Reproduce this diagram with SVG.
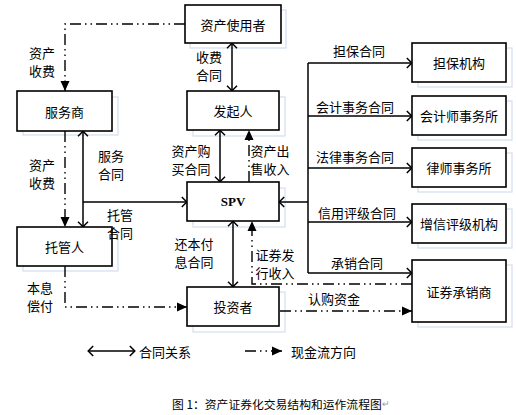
<svg xmlns="http://www.w3.org/2000/svg" width="516" height="415" viewBox="0 0 516 415">
<defs>
<style>
.box{fill:#fff;stroke:#000;stroke-width:1.6}
.ghost{fill:none;stroke:#d3def0;stroke-width:1.2}
.t{font-family:"Noto Sans CJK SC","Liberation Serif",serif;font-size:13px;fill:#000}
.c{text-anchor:middle;dominant-baseline:central}
.ct{fill:none;stroke:#000;stroke-width:1.5}
.cf{fill:none;stroke:#000;stroke-width:1.4;stroke-dasharray:11 4 1.5 4 1.5 4}
.spv{font-family:"Liberation Serif",serif;font-weight:bold;font-size:13px}
</style>
<marker id="o" viewBox="0 0 10 12" refX="9.2" refY="6" markerWidth="10" markerHeight="12" markerUnits="userSpaceOnUse" orient="auto-start-reverse">
<path d="M4,1 L9,6 L4,11" fill="none" stroke="#000" stroke-width="1.5"/>
</marker>
<marker id="f" viewBox="0 0 10 10" refX="10" refY="5" markerWidth="10" markerHeight="10" markerUnits="userSpaceOnUse" orient="auto">
<path d="M0,0.5 L10,5 L0,9.5 z" fill="#000"/>
</marker>
</defs>

<g id="ghosts">
<rect class="ghost" x="190" y="10" width="96" height="38"/>
<rect class="ghost" x="23" y="97" width="95" height="38"/>
<rect class="ghost" x="193" y="97" width="92" height="39"/>
<rect class="ghost" x="193" y="188" width="92" height="39"/>
<rect class="ghost" x="23" y="232" width="95" height="39"/>
<rect class="ghost" x="193" y="292" width="92" height="40"/>
<rect class="ghost" x="418" y="48" width="94" height="39"/>
<rect class="ghost" x="418" y="101" width="94" height="39"/>
<rect class="ghost" x="418" y="153" width="94" height="39"/>
<rect class="ghost" x="418" y="209" width="94" height="39"/>
<rect class="ghost" x="418" y="265" width="94" height="62"/>
</g>

<g id="connectors">
<line class="ct" x1="232" y1="43" x2="232" y2="91" marker-start="url(#o)" marker-end="url(#o)"/>
<line class="ct" x1="220" y1="130" x2="220" y2="182" marker-start="url(#o)" marker-end="url(#o)"/>
<line class="ct" x1="233" y1="221" x2="233" y2="287" marker-start="url(#o)" marker-end="url(#o)"/>
<line class="ct" x1="83" y1="131" x2="83" y2="227" marker-start="url(#o)" marker-end="url(#o)"/>
<line class="ct" x1="83" y1="202" x2="187" y2="202" marker-end="url(#o)"/>
<line class="ct" x1="308" y1="63" x2="308" y2="273"/>
<line class="ct" x1="308" y1="202" x2="279" y2="202" marker-end="url(#o)"/>
<line class="ct" x1="308" y1="63" x2="412" y2="63" marker-end="url(#o)"/>
<line class="ct" x1="308" y1="116" x2="412" y2="116" marker-end="url(#o)"/>
<line class="ct" x1="308" y1="168" x2="412" y2="168" marker-end="url(#o)"/>
<line class="ct" x1="308" y1="222" x2="412" y2="222" marker-end="url(#o)"/>
<line class="ct" x1="308" y1="273" x2="412" y2="273" marker-end="url(#o)"/>
<polyline class="cf" points="185,24 65,24 65,91" marker-end="url(#f)"/>
<line class="cf" x1="65" y1="131" x2="65" y2="227" marker-end="url(#f)"/>
<polyline class="cf" points="65,266 65,307 187,307" marker-end="url(#f)"/>
<line class="cf" x1="249" y1="182" x2="249" y2="130" marker-end="url(#f)"/>
<polyline class="cf" points="412,284 252,284 252,221" marker-end="url(#f)"/>
<line class="cf" x1="280" y1="311" x2="412" y2="311" marker-end="url(#f)"/>
</g>

<g id="n-user"><rect class="box" x="185" y="5" width="96" height="38"/><text class="t c" x="233" y="24">资产使用者</text></g>
<g id="n-servicer"><rect class="box" x="17" y="91" width="95" height="40"/><text class="t c" x="64.5" y="111">服务商</text></g>
<g id="n-originator"><rect class="box" x="187" y="91" width="92" height="39"/><text class="t c" x="233" y="110.5">发起人</text></g>
<g id="n-spv"><rect class="box" x="187" y="182" width="92" height="39"/><text class="spv c" x="233" y="201.5">SPV</text></g>
<g id="n-trustee"><rect class="box" x="17" y="227" width="95" height="39"/><text class="t c" x="64.5" y="246.5">托管人</text></g>
<g id="n-investor"><rect class="box" x="187" y="287" width="92" height="39"/><text class="t c" x="233" y="306.5">投资者</text></g>
<g id="n-guarantor"><rect class="box" x="412" y="43" width="94" height="39"/><text class="t c" x="459" y="62.5">担保机构</text></g>
<g id="n-accountant"><rect class="box" x="412" y="96" width="94" height="39"/><text class="t c" x="459" y="115.5">会计师事务所</text></g>
<g id="n-law"><rect class="box" x="412" y="148" width="94" height="39"/><text class="t c" x="459" y="167.5">律师事务所</text></g>
<g id="n-rating"><rect class="box" x="412" y="204" width="94" height="39"/><text class="t c" x="459" y="223.5">增信评级机构</text></g>
<g id="n-underwriter"><rect class="box" x="412" y="260" width="94" height="62"/><text class="t c" x="459" y="291">证券承销商</text></g>

<g id="labels">
<text class="t c" x="42" y="52">资产<tspan x="42" dy="18">收费</tspan></text>
<text class="t c" x="209" y="56">收费<tspan x="209" dy="18">合同</tspan></text>
<text class="t c" x="111" y="155">服务<tspan x="111" dy="18">合同</tspan></text>
<text class="t c" x="42" y="164">资产<tspan x="42" dy="18">收费</tspan></text>
<text class="t c" x="120" y="214">托管<tspan x="120" dy="18">合同</tspan></text>
<text class="t c" x="40" y="287">本息<tspan x="40" dy="18">偿付</tspan></text>
<text class="t c" x="191" y="150">资产购<tspan x="191" dy="18">买合同</tspan></text>
<text class="t c" x="270" y="150">资产出<tspan x="270" dy="18">售收入</tspan></text>
<text class="t c" x="194" y="243">还本付<tspan x="194" dy="18">息合同</tspan></text>
<text class="t c" x="275" y="254">证券发<tspan x="275" dy="18">行收入</tspan></text>
<text class="t c" x="334" y="298">认购资金</text>
<text class="t c" x="359" y="50">担保合同</text>
<text class="t c" x="355" y="106">会计事务合同</text>
<text class="t c" x="355" y="156">法律事务合同</text>
<text class="t c" x="357" y="212">信用评级合同</text>
<text class="t c" x="357" y="262">承销合同</text>
</g>

<g id="legend">
<line class="ct" x1="88" y1="351" x2="135" y2="351" marker-start="url(#o)" marker-end="url(#o)"/>
<text class="t" x="139" y="351" dominant-baseline="central">合同关系</text>
<line class="cf" x1="245" y1="351" x2="282" y2="351" marker-end="url(#f)"/>
<text class="t" x="291" y="351" dominant-baseline="central">现金流方向</text>
<text class="t" x="172" y="403" dominant-baseline="central" style="font-size:11.8px">图 1：资产证券化交易结构和运作流程图<tspan fill="#999" style="font-size:9px">↵</tspan></text>
</g>
</svg>
